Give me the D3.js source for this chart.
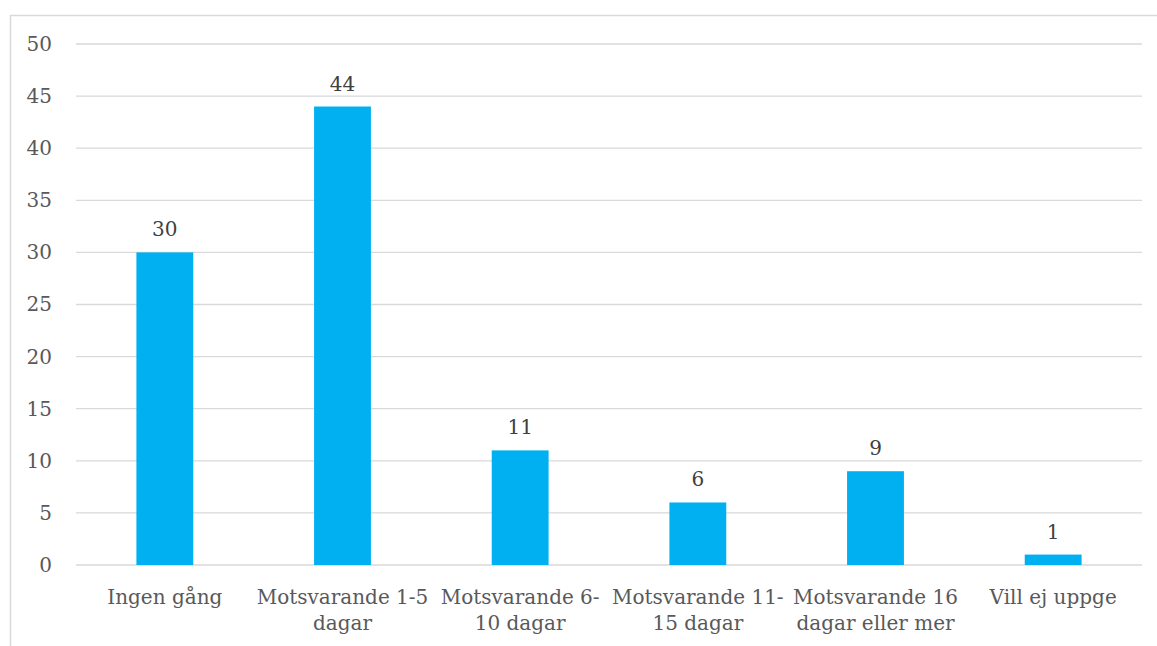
<!DOCTYPE html>
<html>
<head>
<meta charset="utf-8">
<script src="https://cdn.jsdelivr.net/npm/d3@7"></script>
<style>
  body { margin: 0; background: #fff; }
  svg text { font-family: "DejaVu Serif", serif; }
</style>
</head>
<body>
<div id="chart"></div>
<script>
// Data
var categories = ["Ingen gång", "Motsvarande 1-5\ndagar", "Motsvarande 6-\n10 dagar",
                  "Motsvarande 11-\n15 dagar", "Motsvarande 16\ndagar eller mer", "Vill ej uppge"];
var values = [30, 44, 11, 6, 9, 1];
var yTicks = [0, 5, 10, 15, 20, 25, 30, 35, 40, 45, 50];

var W = 1157, H = 646;
var margin = { top: 44, right: 15, bottom: 81, left: 76 },
    width = W - margin.left - margin.right,
    height = H - margin.top - margin.bottom;

var root = d3.select("#chart").append("svg")
  .attr("width", W).attr("height", H);

// outer chart border (left and top only visible)
root.append("rect")
  .attr("x", 10.5).attr("y", 15.5)
  .attr("width", 1160).attr("height", 660)
  .attr("fill", "none").attr("stroke", "#d9d9d9").attr("stroke-width", 1.5);

var svg = root.append("g")
  .attr("transform", "translate(" + margin.left + "," + margin.top + ")");

var x = d3.scaleBand().domain(categories).range([0, width]).paddingInner(0.68).paddingOuter(0.34);
var y = d3.scaleLinear().domain([0, 50]).range([height, 0]);

// gridlines
svg.append("g").selectAll("line")
  .data(yTicks).enter().append("line")
  .attr("x1", 0).attr("x2", width)
  .attr("y1", function(d) { return y(d); })
  .attr("y2", function(d) { return y(d); })
  .attr("stroke", "#d9d9d9").attr("stroke-width", 1.3);

// y axis labels
var yAxis = d3.axisLeft(y).tickValues(yTicks).tickSize(0).tickPadding(24);
var gy = svg.append("g").call(yAxis);
gy.select(".domain").remove();
gy.selectAll("text").attr("fill", "#595959").style("font-size", "20px");

// bars
svg.selectAll(".bar")
  .data(values).enter().append("rect")
  .attr("class", "bar")
  .attr("x", function(d, i) { return x(categories[i]); })
  .attr("y", function(d) { return y(d); })
  .attr("width", x.bandwidth())
  .attr("height", function(d) { return height - y(d); })
  .attr("fill", "#00b0f0");

// value labels
svg.selectAll(".val")
  .data(values).enter().append("text")
  .attr("class", "val")
  .attr("x", function(d, i) { return x(categories[i]) + x.bandwidth() / 2; })
  .attr("y", function(d) { return y(d) - 16; })
  .attr("text-anchor", "middle")
  .attr("fill", "#404040")
  .style("font-size", "20px")
  .text(function(d) { return d; });

// category labels
var xl = svg.append("g").selectAll("text")
  .data(categories).enter().append("text")
  .attr("x", function(d) { return x(d) + x.bandwidth() / 2; })
  .attr("y", height + 39)
  .attr("text-anchor", "middle")
  .attr("fill", "#595959")
  .style("font-size", "20px");
xl.selectAll("tspan")
  .data(function(d) { return d.split("\n"); })
  .enter().append("tspan")
  .attr("x", function() { return d3.select(this.parentNode).attr("x"); })
  .attr("dy", function(d, i) { return i ? 26 : 0; })
  .text(function(d) { return d; });
</script>
</body>
</html>
